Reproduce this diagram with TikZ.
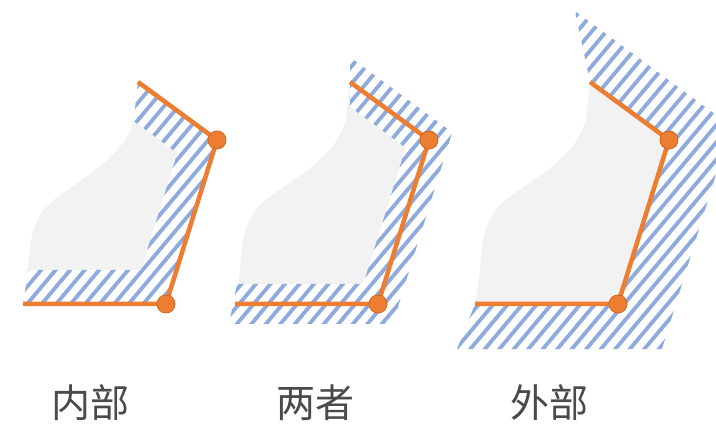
\documentclass[tikz,border=0pt]{standalone}
\usepackage{fontspec}
\newfontfamily\cjk{Noto Sans CJK SC}
\definecolor{strokeorange}{HTML}{ED7D31}
\definecolor{dotedge}{HTML}{D0661E}
\definecolor{hatchblue}{HTML}{8FAADC}
\definecolor{fillgray}{HTML}{F2F2F2}
\definecolor{labelgray}{HTML}{4A4A4A}
\tikzset{
  shapeS/.style={insert path={(138,82) -- (134,118) .. controls (128,150) and (95,171) .. (63,193)
      .. controls (35,212) and (30,230) .. (28,272) -- (23,304) -- (166,304) -- (217,140) -- cycle}},
  grayfill/.style={fill=fillgray},
  bandbg/.style={fill=white},
  stripe/.style={draw=hatchblue, line width=3.8pt},
  orangeline/.style={draw=strokeorange, line width=4.5pt, line join=round},
  dot/.style={circle, fill=strokeorange, draw=dotedge, line width=0.8pt, minimum size=18pt, inner sep=0pt},
  lbl/.style={font=\cjk\fontsize{39}{39}\selectfont, text=labelgray, inner sep=0pt, anchor=base}
}
\newcommand\stripesall{\foreach \i in {-27,...,21} {\draw[stripe] ({\i*14.5},440) -- ++(369.2,-440);}}
\newcommand\panelcommon[1]{%
  \coordinate (#1p1) at (138,82);
  \coordinate (#1p2) at (217,140);
  \coordinate (#1p3) at (166,304);
  \coordinate (#1p4) at (23,304);
  \draw[orangeline] (#1p1) -- (#1p2) -- (#1p3) -- (#1p4);
  \node[dot] (#1d2) at (#1p2) {};
  \node[dot] (#1d3) at (#1p3) {};
}
\begin{document}
\begin{tikzpicture}[x=1pt, y=-1pt]
\useasboundingbox (0,0) rectangle (716,425);
\fill[white] (0,0) rectangle (716,425);
\clip (0,0) rectangle (716,425);

% ---------- panel 1: inside ----------
\begin{scope}
  \fill[grayfill, shapeS];
  \begin{scope}
    \clip[shapeS];
    \begin{scope}
      \clip (120,68.7) -- (217,140) -- (166,304) -- (0,304) -- (0,270) -- (141,270)
            -- (177.3,153.1) -- (78.4,80.4) -- cycle;
      \fill[bandbg] (0,0) rectangle (300,360);
      \stripesall
    \end{scope}
  \end{scope}
  \panelcommon{a}
\end{scope}

% ---------- panel 2: both ----------
\begin{scope}[shift={(212,0)}]
  \fill[grayfill, shapeS];
  \begin{scope}
    \clip (138,57.2) -- (240.3,132.3) -- (180.7,324) -- (17,324) -- (25,284)
          -- (151.3,284) -- (193.7,147.7) -- (138,106.8) -- cycle;
    \fill[bandbg] (0,0) rectangle (300,360);
    \stripesall
  \end{scope}
  \panelcommon{b}
\end{scope}

% ---------- panel 3: outside ----------
\begin{scope}[shift={(452,0)}]
  \fill[grayfill, shapeS];
  \begin{scope}
    \clip (138,82) -- (123,11) -- (279,126) -- (210,349) -- (5,349) -- (23,304)
          -- (166,304) -- (217,140) -- cycle;
    \fill[bandbg] (0,0) rectangle (300,360);
    \stripesall
  \end{scope}
  \panelcommon{c}
\end{scope}

% ---------- labels ----------
\node[lbl] (l1) at (91,417) {内部};
\node[lbl] (l2) at (315,417) {两者};
\node[lbl] (l3) at (549,417) {外部};
\end{tikzpicture}
\end{document}
